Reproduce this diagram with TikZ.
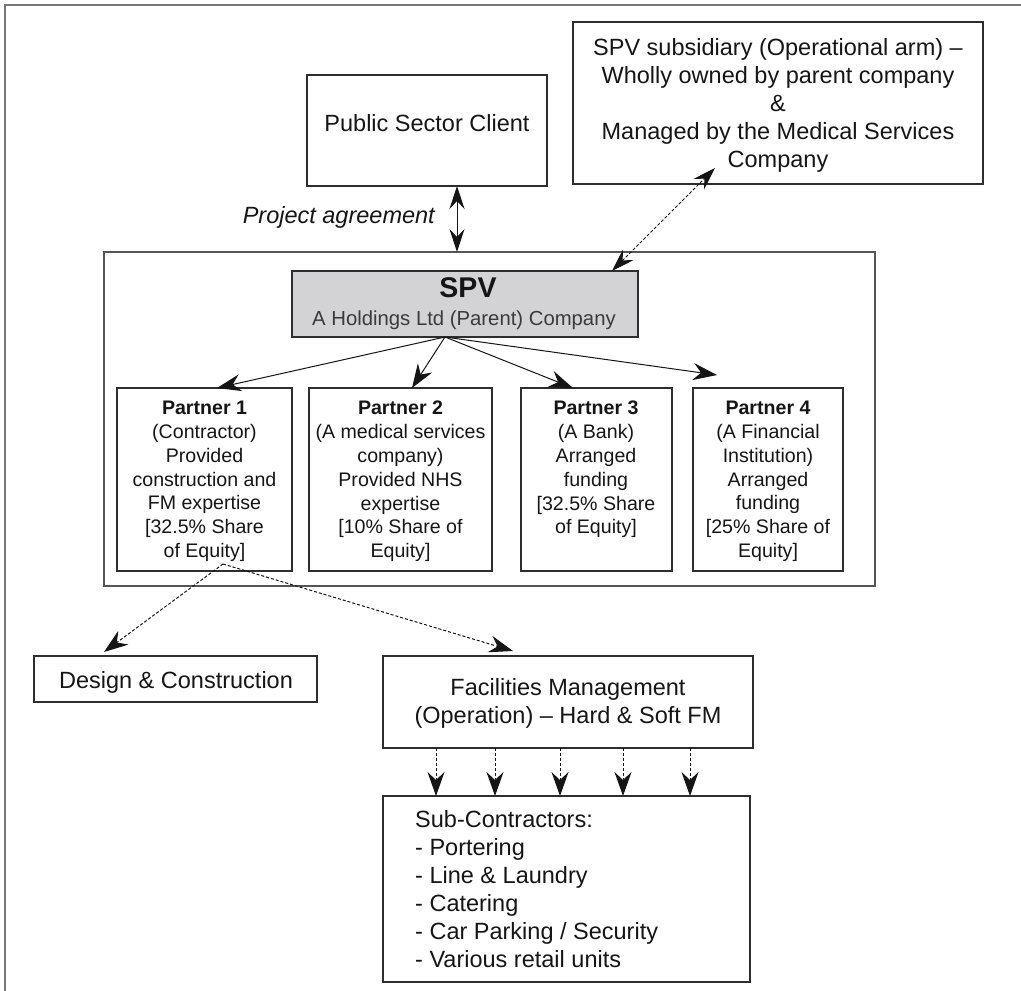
\documentclass[tikz,border=0pt]{standalone}
\usepackage{fontspec}
\setmainfont{Liberation Sans}
\usetikzlibrary{arrows.meta}
\definecolor{ink}{HTML}{151515}
\definecolor{edge}{HTML}{2E2E2E}
\definecolor{framec}{HTML}{777777}
\definecolor{contc}{HTML}{555555}
\definecolor{subink}{HTML}{3A3A3A}
\definecolor{spvfill}{HTML}{D3D3D5}
\tikzset{
  box/.style={draw=edge, line width=1.2pt, inner sep=0pt, outer sep=0pt},
  big/.style={font=\fontsize{23.5}{28}\selectfont, text=ink, inner sep=0pt, align=center},
  small/.style={font=\fontsize{19.6}{23.8}\selectfont, text=ink, inner sep=0pt, align=center},
  solidarrow/.style={draw=ink, line width=1pt, -{Stealth[length=24pt,width=17pt,inset=8pt]}},
  dasharrow/.style={draw=ink, line width=1pt, dash pattern=on 3pt off 2pt, -{Stealth[length=24pt,width=17pt,inset=8pt]}},
  twoheads/.style={{Stealth[length=23pt,width=15pt,inset=8pt]}-{Stealth[length=23pt,width=15pt,inset=8pt]}},
}
\newcommand\mkbox[6]{\node[box,#6,minimum width={(#4)-(#2)},minimum height={(#5)-(#3)}] (#1) at ({((#2)+(#4))/2},{((#3)+(#5))/2}) {};}
\begin{document}
\begin{tikzpicture}[x=1pt,y=-1pt]
\useasboundingbox (0,0) rectangle (1021,991);
% outer frame (top and left only visible)
\draw[framec, line width=2pt] (5,991) -- (5,5) -- (1021,5);

% boxes
\mkbox{psc}{307}{75}{547}{186}{}
\mkbox{subs}{573}{22}{983}{184}{}
\mkbox{cont}{104}{252}{875}{586}{draw=contc, line width=1.6pt}
\mkbox{spv}{292}{271}{638}{337}{fill=spvfill}
\mkbox{p1}{117}{388}{292}{571}{}
\mkbox{p2}{309}{388}{492}{571}{}
\mkbox{p3}{521}{388}{672}{571}{}
\mkbox{p4}{693}{388}{843}{571}{}
\mkbox{dc}{34}{656}{317}{702}{}
\mkbox{fm}{383}{656}{753}{748}{}
\mkbox{sc}{383}{796}{750}{982}{}

% texts
\node[big, anchor=base] (psct) at (427,131) {Public Sector Client};
\node[big, anchor=north] (subt) at (778,38) {SPV subsidiary (Operational arm) –\\Wholly owned by parent company\\\&\\Managed by the Medical Services\\Company};
\node[big, anchor=base east, font=\fontsize{23.5}{28}\selectfont\itshape] (pat) at (435,223) {Project agreement};
\node[anchor=base, inner sep=0pt, text=ink, font=\fontsize{28.5}{30}\selectfont\bfseries] (spvt) at (468,297) {SPV};
\node[anchor=base, inner sep=0pt, text=subink, font=\fontsize{20.3}{24}\selectfont] (spvs) at (464,325) {A Holdings Ltd (Parent) Company};
\node[small, anchor=north] (p1t) at (204.5,401) {\textbf{Partner 1}\\(Contractor)\\Provided\\construction and\\FM expertise\\{[}32.5\% Share\\of Equity]};
\node[small, anchor=north] (p2t) at (400.5,401) {\textbf{Partner 2}\\(A medical services\\company)\\Provided NHS\\expertise\\{[}10\% Share of\\Equity]};
\node[small, anchor=north] (p3t) at (596,401) {\textbf{Partner 3}\\(A Bank)\\Arranged\\funding\\{[}32.5\% Share\\of Equity]};
\node[small, anchor=north] (p4t) at (768,401) {\textbf{Partner 4}\\(A Financial\\Institution)\\Arranged\\funding\\{[}25\% Share of\\Equity]};
\node[big, anchor=base] (dct) at (176,688) {Design \& Construction};
\node[big, anchor=north] (fmt) at (568,678) {Facilities Management\\(Operation) – Hard \& Soft FM};
\node[big, anchor=north west, align=left] (sct) at (415,810) {Sub-Contractors:\\- Portering\\- Line \& Laundry\\- Catering\\- Car Parking / Security\\- Various retail units};

% connector anchor points
\coordinate (pa) at (457,0);
\coordinate (spvA) at (612,271);
\coordinate (subA) at (715,168);
\coordinate (spvB) at (445,337);
\coordinate (c1) at (217,0);
\coordinate (c2) at (412,0);
\coordinate (c3) at (573,0);
\coordinate (p4A) at (717,375);
\coordinate (p1o) at (223,564);
\coordinate (dcA) at (104,652);
\coordinate (fmA) at (513,651);

% connectors
\draw[draw=ink, line width=1pt, twoheads] (psc.south -| pa) -- (cont.north -| pa);
\draw[draw=ink, line width=1pt, dash pattern=on 3pt off 2pt, twoheads] (spvA) -- (subA);
\draw[solidarrow] (spvB) -- (p1.north -| c1);
\draw[solidarrow] (spvB) -- (p2.north -| c2);
\draw[solidarrow] (spvB) -- (p3.north -| c3);
\draw[solidarrow] (spvB) -- (p4A);
\draw[dasharrow] (p1o) -- (dcA);
\draw[dasharrow] (p1o) -- (fmA);
\foreach \x [count=\i] in {436,495,560,623,690} {
  \coordinate (v\i) at (\x,0);
  \draw[dasharrow] (fm.south -| v\i) -- (sc.north -| v\i);
}
\end{tikzpicture}
\end{document}
